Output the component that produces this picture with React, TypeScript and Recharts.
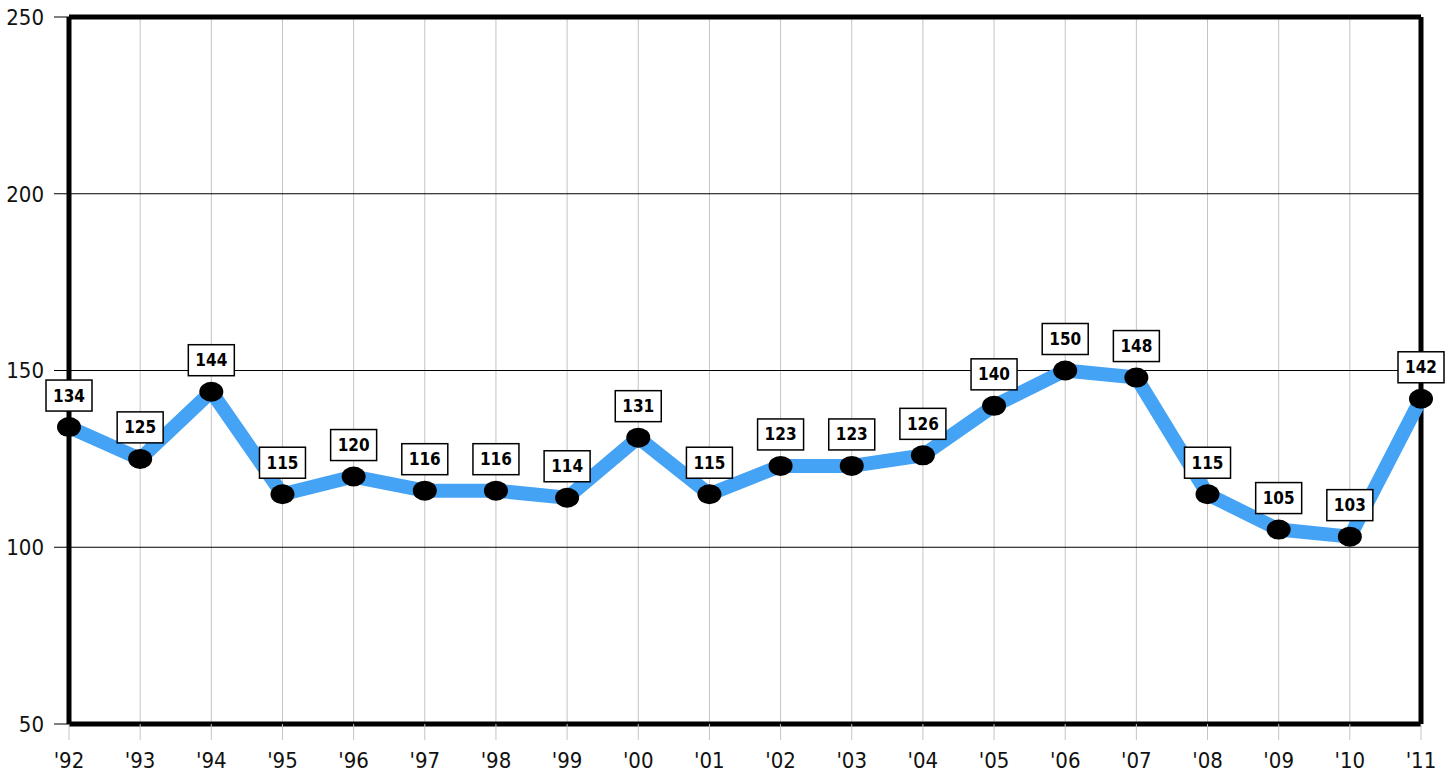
import { LineChart, Line, XAxis, YAxis, CartesianGrid, LabelList, ReferenceLine } from 'recharts';

const years = ["'92", "'93", "'94", "'95", "'96", "'97", "'98", "'99", "'00", "'01", "'02", "'03", "'04", "'05", "'06", "'07", "'08", "'09", "'10", "'11"];
const values = [134, 125, 144, 115, 120, 116, 116, 114, 131, 115, 123, 123, 126, 140, 150, 148, 115, 105, 103, 142];
const yTicks = [50, 100, 150, 200, 250];

const data = years.map((year, i) => ({ year, value: values[i] }));

const FONT = '"DejaVu Sans Condensed", "DejaVu Sans", sans-serif';

function Dot(props: any) {
  const { cx, cy } = props;
  if (cx == null || cy == null) return null;
  return <ellipse cx={cx} cy={cy} rx={12} ry={10} fill="#000" />;
}

function ValueBox(props: any) {
  const { x, y, value } = props;
  if (x == null || y == null) return null;
  const w = 46;
  const h = 31;
  return (
    <g>
      <rect x={x - w / 2} y={y - 16 - h} width={w} height={h} fill="#fff" stroke="#000" strokeWidth={1.5} />
      <text
        x={x}
        y={y - 16 - h / 2}
        textAnchor="middle"
        dominantBaseline="central"
        fontFamily={FONT}
        fontWeight="bold"
        fontSize={17}
        fill="#000"
      >
        {value}
      </text>
    </g>
  );
}

export default function App() {
  return (
    <div style={{ position: 'absolute', left: 0, top: 0, background: '#fff' }}>
      <LineChart width={1449} height={773} data={data} margin={{ top: 17, right: 28, bottom: 0, left: 0 }}>
        <CartesianGrid horizontal={false} vertical stroke="#c4c4c4" strokeWidth={1} />
        <CartesianGrid horizontal vertical={false} stroke="#000" strokeWidth={1} />
        <XAxis
          dataKey="year"
          height={49}
          axisLine={{ stroke: '#000', strokeWidth: 5 }}
          tickLine={{ stroke: '#c4c4c4', strokeWidth: 1 }}
          tickSize={16}
          tickMargin={12}
          interval={0}
          tick={{ fontFamily: FONT, fontSize: 22, fill: '#111' }}
        />
        <YAxis
          width={69}
          domain={[50, 250]}
          ticks={yTicks}
          allowDataOverflow
          axisLine={{ stroke: '#000', strokeWidth: 5 }}
          tickLine={{ stroke: '#000', strokeWidth: 1 }}
          tickSize={15}
          tickMargin={10}
          tick={{ fontFamily: FONT, fontSize: 22, fill: '#111' }}
        />
        <ReferenceLine y={250} stroke="#000" strokeWidth={5} />
        <ReferenceLine x="'11" stroke="#000" strokeWidth={5} />
        <Line
          type="linear"
          dataKey="value"
          stroke="#45a3f6"
          strokeWidth={14}
          strokeLinejoin="round"
          dot={<Dot />}
          activeDot={false}
          isAnimationActive={false}
        >
          <LabelList dataKey="value" content={<ValueBox />} />
        </Line>
      </LineChart>
    </div>
  );
}
